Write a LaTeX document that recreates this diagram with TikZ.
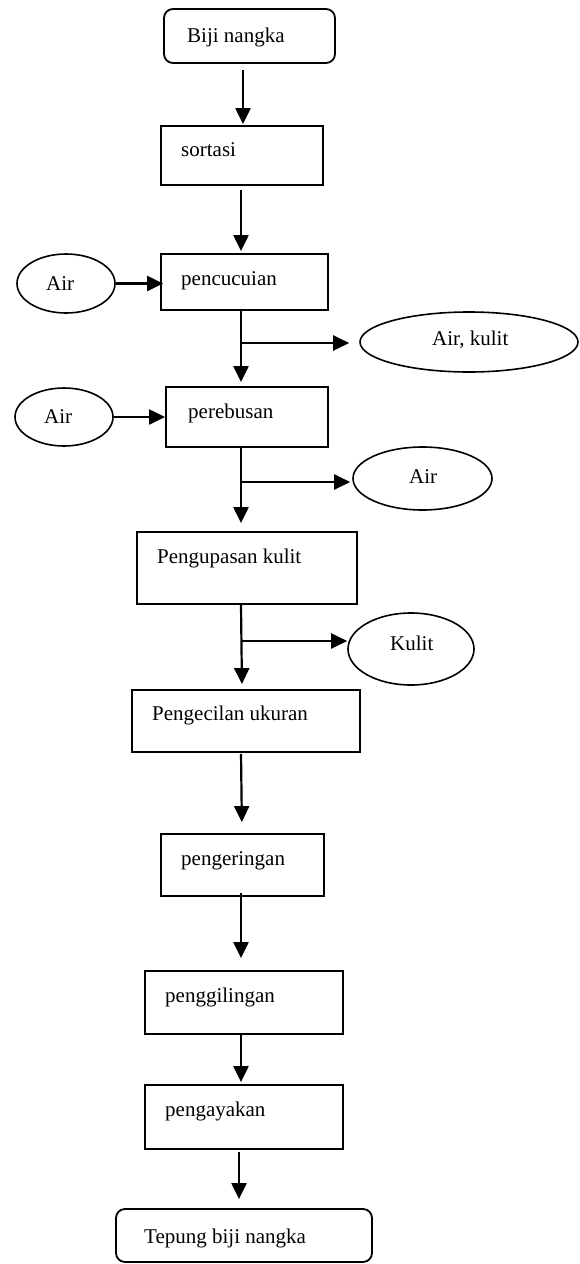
\documentclass[tikz,border=0pt]{standalone}
\usepackage{fontspec}
\setmainfont{Liberation Serif}
\usetikzlibrary{arrows.meta,shapes.geometric}
\begin{document}
\begin{tikzpicture}[x=1pt,y=-1pt,
  boxstyle/.style={draw,line width=1.8pt,rectangle,inner sep=0pt},
  roundbox/.style={boxstyle,rounded corners=9pt},
  ovalstyle/.style={draw,line width=1.6pt,ellipse,inner sep=0pt},
  txt/.style={anchor=base west,inner sep=0pt,font=\fontsize{21}{25}\selectfont},
  arr/.style={line width=2.2pt,-{Triangle[length=16pt,width=15pt]}}]
\useasboundingbox (0,0) rectangle (580,1264);
% process boxes
\node[roundbox,minimum width=171pt,minimum height=54pt] (biji) at (249.5,36) {};
\node[boxstyle,minimum width=162pt,minimum height=59pt] (sortasi) at (242,155.5) {};
\node[boxstyle,minimum width=167pt,minimum height=56pt] (cuci) at (244.5,282) {};
\node[boxstyle,minimum width=162pt,minimum height=60pt] (rebus) at (247,417) {};
\node[boxstyle,minimum width=220pt,minimum height=72pt] (kupas) at (247,568) {};
\node[boxstyle,minimum width=228pt,minimum height=62pt] (kecil) at (246,721) {};
\node[boxstyle,minimum width=163pt,minimum height=62pt] (kering) at (242.5,865) {};
\node[boxstyle,minimum width=198pt,minimum height=63pt] (giling) at (244,1002.5) {};
\node[boxstyle,minimum width=198pt,minimum height=64pt] (ayak) at (244,1117) {};
\node[roundbox,minimum width=256pt,minimum height=53pt] (tepung) at (244,1235.5) {};
% ellipses
\node[ovalstyle,minimum width=98pt,minimum height=59pt] (air1) at (66,283.5) {};
\node[ovalstyle,minimum width=98pt,minimum height=58pt] (air2) at (64,417) {};
\node[ovalstyle,minimum width=218pt,minimum height=60pt] (airkulit) at (469,342) {};
\node[ovalstyle,minimum width=139pt,minimum height=63pt] (airout) at (422.5,478.5) {};
\node[ovalstyle,minimum width=126pt,minimum height=72pt] (kulit) at (411,649) {};
% texts
\node[txt] (tbiji) at (187,42) {Biji nangka};
\node[txt] (tsort) at (181,156) {sortasi};
\node[txt] (tcuci) at (181,285) {pencucuian};
\node[txt] (tair1) at (46,290) {Air};
\node[txt] (trebus) at (188,418) {perebusan};
\node[txt] (tair2) at (44,423) {Air};
\node[txt] (tak) at (432,345) {Air, kulit};
\node[txt] (tairo) at (409,483) {Air};
\node[txt] (tkupas) at (157,563) {Pengupasan kulit};
\node[txt] (tkulit) at (390,650) {Kulit};
\node[txt] (tkecil) at (152,720) {Pengecilan ukuran};
\node[txt] (tkering) at (181,865) {pengeringan};
\node[txt] (tgiling) at (165,1002) {penggilingan};
\node[txt] (tayak) at (165,1116) {pengayakan};
\node[txt] (ttep) at (144,1243) {Tepung biji nangka};
% junctions
\coordinate (j1) at (241,343);
\coordinate (j2) at (241,482);
\coordinate (j3) at (241,641);
% main flow
\draw[arr,shorten <=6pt,shorten >=1pt] (biji.south -| 243,0) -- (sortasi.north -| 243,0);
\draw[arr,shorten <=4pt,shorten >=2pt] (sortasi.south -| 241,0) -- (cuci.north -| 241,0);
\draw[arr,shorten >=4pt] (cuci.south -| 241,0) -- (rebus.north -| 241,0);
\draw[arr,shorten >=8pt] (rebus.south -| 241,0) -- (kupas.north -| 241,0);
\draw[arr,shorten >=5pt] (kupas.south -| 241,0) -- (kecil.north -| 242,0);
\draw[arr,shorten <=1pt,shorten >=11pt] (kecil.south -| 241,0) -- (kering.north -| 242,0);
\draw[arr,shorten <=-4pt,shorten >=12pt] (kering.south -| 241,0) -- (giling.north -| 241,0);
\draw[arr,shorten >=2pt] (giling.south -| 241,0) -- (ayak.north -| 241,0);
\draw[arr,shorten <=2pt,shorten >=9pt] (ayak.south -| 239,0) -- (tepung.north -| 239,0);
% inputs
\draw[arr,shorten >=-3pt] (air1.east) -- (cuci.west |- air1.east);
\draw[arr] (air2.east) -- (rebus.west |- air2.east);
% outputs
\draw[arr,shorten >=10pt] (j1) -- (j1 -| airkulit.west);
\draw[arr,shorten >=2pt] (j2) -- (j2 -| airout.west);
\draw[arr] (j3) -- (j3 -| kulit.west);
\end{tikzpicture}
\end{document}
